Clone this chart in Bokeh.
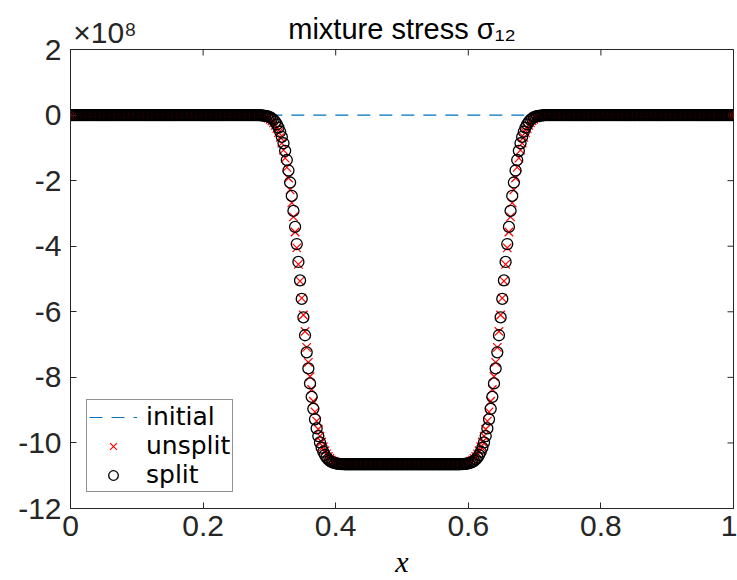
import numpy as np
from bokeh.plotting import figure
from bokeh.models import (FixedTicker, LinearAxis, Legend, LegendItem,
                          ColumnDataSource, Range1d)
from bokeh.embed import file_html
from bokeh.resources import INLINE

# ---------------- data (stress values in units of 1e8) ----------------
n_cells = 400                      # uniform grid on [0, 1], cell centres
x_grid = (np.arange(n_cells) + 0.5) / n_cells

initial_1e8 = [0.0] * n_cells      # initial mixture stress sigma_12

plateau_low = -10.65               # stress level in the sheared middle band

# left-half front of the "split" solution (cells 113..164)
split_front = [-0.004, -0.006, -0.009, -0.014, -0.022, -0.034, -0.050, -0.073,
               -0.104, -0.147, -0.205, -0.282, -0.381, -0.508, -0.666, -0.860,
               -1.092, -1.371, -1.690, -2.056, -2.466, -2.923, -3.412, -3.934,
               -4.480, -5.043, -5.607, -6.170, -6.716, -7.238, -7.727, -8.184,
               -8.594, -8.960, -9.279, -9.558, -9.790, -9.984, -10.142, -10.269,
               -10.368, -10.445, -10.503, -10.546, -10.577, -10.600, -10.616,
               -10.628, -10.636, -10.641, -10.644, -10.646]
# left-half front of the "unsplit" solution (cells 110..167), slightly more smeared
unsplit_front = [-0.003, -0.004, -0.006, -0.010, -0.015, -0.022, -0.032, -0.047,
                 -0.066, -0.093, -0.128, -0.175, -0.236, -0.315, -0.411, -0.534,
                 -0.680, -0.857, -1.068, -1.314, -1.597, -1.920, -2.280, -2.677,
                 -3.106, -3.566, -4.050, -4.552, -5.066, -5.584, -6.098, -6.600,
                 -7.084, -7.544, -7.973, -8.370, -8.730, -9.053, -9.336, -9.582,
                 -9.793, -9.970, -10.116, -10.239, -10.335, -10.414, -10.475,
                 -10.522, -10.557, -10.584, -10.603, -10.618, -10.628, -10.636,
                 -10.640, -10.644, -10.646, -10.647]

split_half = [0.0] * 113 + split_front + [plateau_low] * 35
unsplit_half = [0.0] * 110 + unsplit_front + [plateau_low] * 32
# the solution is symmetric about x = 0.5
split_1e8 = split_half + split_half[::-1]
unsplit_1e8 = unsplit_half + unsplit_half[::-1]

x_ticks = [0, 0.2, 0.4, 0.6, 0.8, 1]
x_tick_labels = ["0", "0.2", "0.4", "0.6", "0.8", "1"]
y_ticks = [2, 0, -2, -4, -6, -8, -10, -12]
y_tick_labels = ["2", "0", "-2", "-4", "-6", "-8", "-10", "-12"]

title_text = "mixture stress σ₁₂"
exponent_text = "×10⁸"
x_label = "x"

# ---------------- figure ----------------
AX = "#262626"
FONT = "Liberation Sans"
W, H = 737, 580
LEFT, RIGHT, TOP, BOTTOM = 70, 4, 49, 70
X0, X1, Y0, Y1 = 0, 1, -12, 2

src = ColumnDataSource(dict(x=x_grid, initial=initial_1e8,
                            unsplit=unsplit_1e8, split=split_1e8))

p = figure(width=W, height=H, x_range=Range1d(X0, X1), y_range=Range1d(Y0, Y1),
           output_backend="svg", toolbar_location=None,
           min_border_left=LEFT, min_border_right=RIGHT, min_border_top=TOP,
           min_border_bottom=BOTTOM)
p.background_fill_color = "white"
p.border_fill_color = "white"
p.outline_line_color = AX
p.outline_line_width = 1
p.xgrid.visible = False
p.ygrid.visible = False

xax = p.below[0]
yax = p.left[0]

def style_axis(ax, ticks, labels, standoff):
    ax.ticker = FixedTicker(ticks=ticks)
    ax.major_label_overrides = {t: l for t, l in zip(ticks, labels)}
    ax.major_label_text_font = FONT
    ax.major_label_text_font_size = "30px"
    ax.major_label_text_color = AX
    ax.major_label_standoff = standoff
    ax.major_tick_in = 6
    ax.major_tick_out = 0
    ax.minor_tick_in = 0
    ax.minor_tick_out = 0
    ax.major_tick_line_color = AX
    ax.axis_line_color = AX

style_axis(xax, x_ticks, x_tick_labels, 7)
style_axis(yax, y_ticks, y_tick_labels, 9)
xax.axis_label = x_label
xax.axis_label_text_font = "Liberation Serif"
xax.axis_label_text_font_style = "italic"
xax.axis_label_text_font_size = "30px"
xax.axis_label_text_color = "#000000"
xax.axis_label_standoff = 6

# top axis: carries the exponent (as its only tick label) and the title
exp_pos = 0.052
top = LinearAxis(ticker=FixedTicker(ticks=[exp_pos]),
                 major_label_overrides={exp_pos: exponent_text})
top.major_label_text_font = FONT
top.major_label_text_font_size = "30px"
top.major_label_text_color = AX
top.major_label_standoff = 1
top.major_tick_in = 0
top.major_tick_out = 0
top.minor_tick_in = 0
top.minor_tick_out = 0
top.axis_line_color = AX
top.axis_label = title_text
top.axis_label_text_font = FONT
top.axis_label_text_font_style = "normal"
top.axis_label_text_font_size = "29px"
top.axis_label_text_color = "#000000"
top.axis_label_standoff = -32
p.add_layout(top, "above")

# inward ticks on the top and right edges of the box
px_y = (Y1 - Y0) / (H - TOP - BOTTOM)
px_x = (X1 - X0) / (W - LEFT - RIGHT)
p.segment(x0=x_ticks, y0=[Y1] * len(x_ticks), x1=x_ticks,
          y1=[Y1 - 6 * px_y] * len(x_ticks), line_color=AX, line_width=1)
p.segment(x0=[X1] * len(y_ticks), y0=y_ticks, x1=[X1 - 6 * px_x] * len(y_ticks),
          y1=y_ticks, line_color=AX, line_width=1)

r_init = p.line("x", "initial", source=src, line_color="#0072BD",
                line_width=1.2, line_dash="13 9")
r_unsplit = p.scatter("x", "unsplit", source=src, marker="x", size=12,
                      line_color="#FF0000", line_width=1.2)
r_split = p.scatter("x", "split", source=src, marker="circle", size=11,
                    line_color="#000000", fill_color=None, line_width=1.3)

legend = Legend(items=[LegendItem(label="initial", renderers=[r_init]),
                       LegendItem(label="unsplit", renderers=[r_unsplit]),
                       LegendItem(label="split", renderers=[r_split])],
                location=(16, 16))
legend.label_text_font = "DejaVu Sans"
legend.label_text_font_size = "25px"
legend.label_text_color = "#000000"
legend.label_height = 24
legend.glyph_height = 24
legend.glyph_width = 48
legend.label_standoff = 9
legend.spacing = 0
legend.padding = 2
legend.margin = 0
legend.border_line_color = AX
legend.border_line_width = 1
legend.background_fill_color = "white"
legend.background_fill_alpha = 1
p.add_layout(legend, "center")

open("out.html", "w").write(file_html(p, INLINE))
